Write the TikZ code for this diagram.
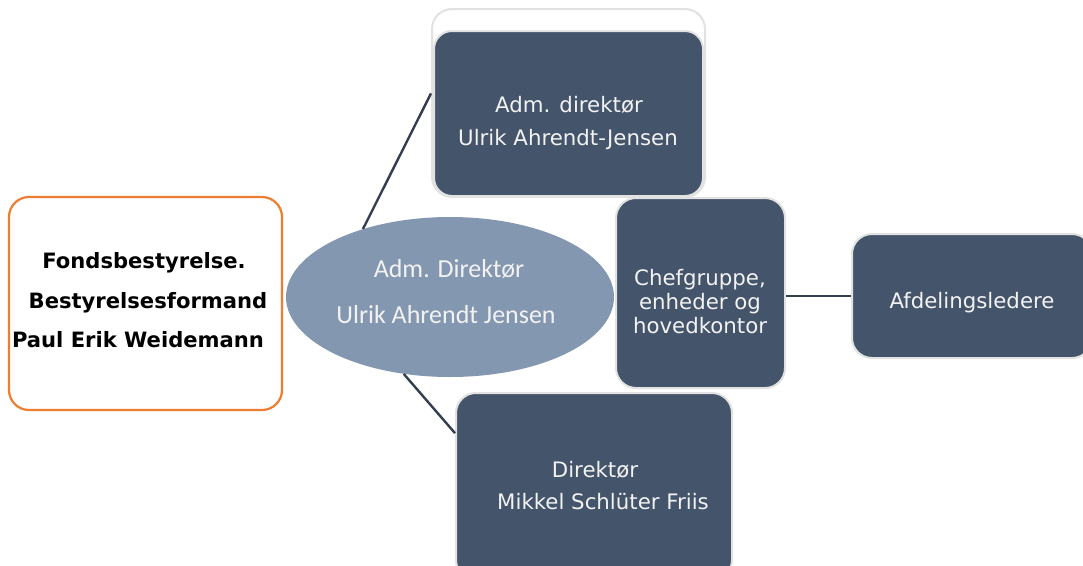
\documentclass[tikz,border=0pt]{standalone}
\usepackage{fontspec}
\setmainfont{DejaVu Sans}
\newfontfamily\ellfont{Carlito}
\definecolor{darkbox}{HTML}{44546A}
\definecolor{ellfill}{HTML}{8497B0}
\definecolor{orangeln}{HTML}{ED7D31}
\definecolor{grayln}{HTML}{E2E2E2}
\definecolor{connln}{HTML}{333F50}
\definecolor{lighttxt}{HTML}{F2F2F2}
\tikzset{
  darkbox/.style={rectangle, rounded corners=20pt, fill=darkbox, draw=grayln, line width=2pt, inner sep=0pt},
  outlinebox/.style={rectangle, rounded corners=20pt, draw=grayln, line width=2pt, inner sep=0pt},
  leftbox/.style={rectangle, rounded corners=20pt, fill=white, draw=orangeln, line width=2.2pt, inner sep=0pt},
  ellbox/.style={ellipse, fill=ellfill, draw=none, inner sep=0pt},
  boxtxt/.style={anchor=base, text=lighttxt, inner sep=0pt, font=\fontsize{21.3}{24}\selectfont},
  elltxt/.style={anchor=base, text=lighttxt, inner sep=0pt, font=\ellfont\fontsize{26}{30}\selectfont},
  boldtxt/.style={anchor=base, text=black, inner sep=0pt, font=\bfseries\fontsize{21.1}{24}\selectfont},
  conn/.style={draw=connln, line width=2.4pt}
}
\usetikzlibrary{shapes.geometric}
\begin{document}
\begin{tikzpicture}[x=1pt,y=-1pt]
\useasboundingbox[fill=white] (0,0) rectangle (1083,565);
% nodes
\node[leftbox, minimum width=273pt, minimum height=213pt] (fonds) at (145.5,303.5) {};
\node[outlinebox, minimum width=273pt, minimum height=188pt] (adm) at (568.5,103) {};
\fill[darkbox, rounded corners=18pt] (434,31) rectangle (703,196);
\node[darkbox, minimum width=169pt, minimum height=190pt] (chef) at (700.5,293) {};
\node[darkbox, minimum width=240pt, minimum height=124pt] (afd) at (972,296) {};
\node[darkbox, minimum width=276pt, minimum height=187pt] (dir) at (594,486.5) {};
\node[ellbox, minimum width=328pt, minimum height=160pt] (ceo) at (450,297) {};
% connectors
\draw[conn] (ceo.142.5) -- (adm.176.6);
\draw[conn] (ceo.239.7) -- (dir.159.5);
\draw[conn] (afd.west -| chef.east) -- (afd.west);
% texts
\node[boldtxt] (f1) at (144,268) {Fondsbestyrelse.};
\node[boldtxt] (f2) at (148,308) {Bestyrelsesformand};
\node[boldtxt] (f3) at (138,347) {Paul Erik Weidemann};
\node[elltxt] (e1) at (449,277) {Adm. Direktør};
\node[elltxt] (e2) at (446,323) {Ulrik Ahrendt Jensen};
\node[boxtxt] (a1) at (569,112) {Adm. direktør};
\node[boxtxt] (a2) at (568,145) {Ulrik Ahrendt-Jensen};
\node[boxtxt] (c1) at (700,285) {Chefgruppe,};
\node[boxtxt] (c2) at (700,309) {enheder og};
\node[boxtxt] (c3) at (700,333) {hovedkontor};
\node[boxtxt] (d0) at (972,308) {Afdelingsledere};
\node[boxtxt] (m1) at (595,477) {Direktør};
\node[boxtxt] (m2) at (603,509) {Mikkel Schlüter Friis};
\end{tikzpicture}
\end{document}
